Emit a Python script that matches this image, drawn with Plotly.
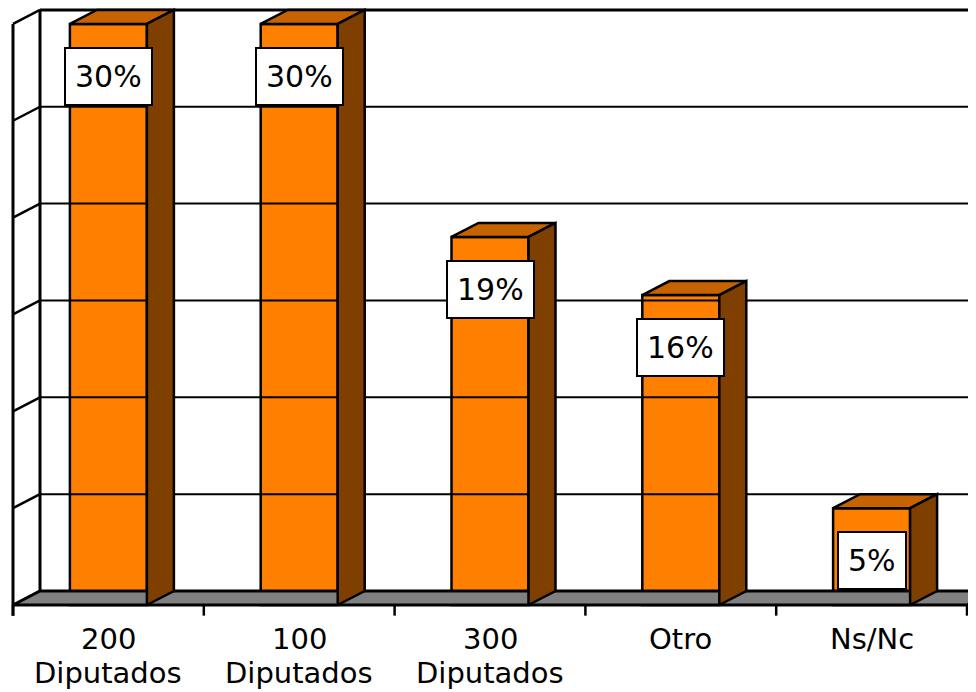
import plotly.graph_objects as go

# ---- data ----
categories = ["200<br>Diputados", "100<br>Diputados", "300<br>Diputados", "Otro", "Ns/Nc"]
values = [30, 30, 19, 16, 5]          # percent
value_labels = ["30%", "30%", "19%", "16%", "5%"]
grid_levels = [0, 5, 10, 15, 20, 25, 30]

# ---- geometry ----
OFF = 8                  # page body margin
W_PX, H_PX = 976 - OFF, 692 - OFF
PX_X = 190.8             # pixels per category
PX_Y = 19.37             # pixels per percent
X0_PX, Y0_PX = 13 - OFF, 605 - OFF   # front-left floor corner (figure pixels)
xr = [-0.5 - X0_PX / PX_X, -0.5 + (W_PX - X0_PX) / PX_X]
yr = [-(H_PX - Y0_PX) / PX_Y, Y0_PX / PX_Y]
DX = 27 / PX_X           # depth offset
DY = 14 / PX_Y
HW = 38.5 / PX_X         # half width of bar front
n = len(categories)
XL, XR = -0.5, n - 0.5
YMAX = max(grid_levels)

def ypix(screen_y):
    return (Y0_PX - (screen_y - OFF)) / PX_Y

ORANGE = "#FF8000"
TOP = "#C66300"
SIDE = "#7E3F00"
FLOOR = "#808080"
FONT = dict(family="DejaVu Sans", size=30, color="black")
CAT_FONT = dict(family="DejaVu Sans", size=29, color="black")

fig = go.Figure()

def poly(xs, ys, fill, lw=2.5):
    fig.add_trace(go.Scatter(x=xs + [xs[0]], y=ys + [ys[0]], mode="lines",
                             fill="toself", fillcolor=fill,
                             line=dict(color="black", width=lw),
                             hoverinfo="skip", showlegend=False))

def seg(xs, ys, lw=2):
    fig.add_trace(go.Scatter(x=xs, y=ys, mode="lines",
                             line=dict(color="black", width=lw),
                             hoverinfo="skip", showlegend=False))

# back wall gridlines
for L in grid_levels:
    seg([XL + DX, xr[1] + 1], [L + DY, L + DY], lw=3 if L == YMAX else 2)
# left wall
seg([XL, XL], [-0.55, YMAX], lw=3)
seg([XL + DX, XL + DX], [DY, YMAX + DY], lw=3)
for L in grid_levels:
    seg([XL, XL + DX], [L, L + DY], lw=2.5)

# floor
poly([XL, XR, XR + DX, XL + DX], [0, 0, DY, DY], FLOOR, lw=3)
# category boundary ticks
for i in range(n + 1):
    seg([XL + i, XL + i], [0, -0.55], lw=2.5)

# bar tops and sides
for i, v in enumerate(values):
    xa, xb = i - HW, i + HW
    poly([xa, xb, xb + DX, xa + DX], [v, v, v + DY, v + DY], TOP)
    poly([xb, xb + DX, xb + DX, xb], [0, DY, v + DY, v], SIDE)

# bar fronts
fig.add_trace(go.Bar(x=list(range(n)), y=values, width=2 * HW,
                     marker=dict(color=ORANGE, line=dict(color="black", width=2.5)),
                     hoverinfo="skip", showlegend=False))

# value labels
for i, (v, t) in enumerate(zip(values, value_labels)):
    fig.add_annotation(x=i, y=v - 2.7, text=t, showarrow=False, font=FONT,
                       height=37, bgcolor="white", bordercolor="black", borderwidth=2,
                       borderpad=9, xanchor="center", yanchor="middle")

# category labels (one annotation per line)
line_y = [ypix(639), ypix(673)]
for i, c in enumerate(categories):
    for j, part in enumerate(c.split("<br>")):
        fig.add_annotation(x=i, y=line_y[j], text=part, showarrow=False, font=CAT_FONT,
                           xanchor="center", yanchor="middle")

fig.update_layout(
    width=W_PX, height=H_PX,
    margin=dict(l=0, r=0, t=0, b=0),
    paper_bgcolor="white", plot_bgcolor="white",
    barmode="overlay",
    xaxis=dict(range=xr, visible=False, fixedrange=True),
    yaxis=dict(range=yr, visible=False, fixedrange=True),
    showlegend=False,
)

fig.write_html("out.html")
